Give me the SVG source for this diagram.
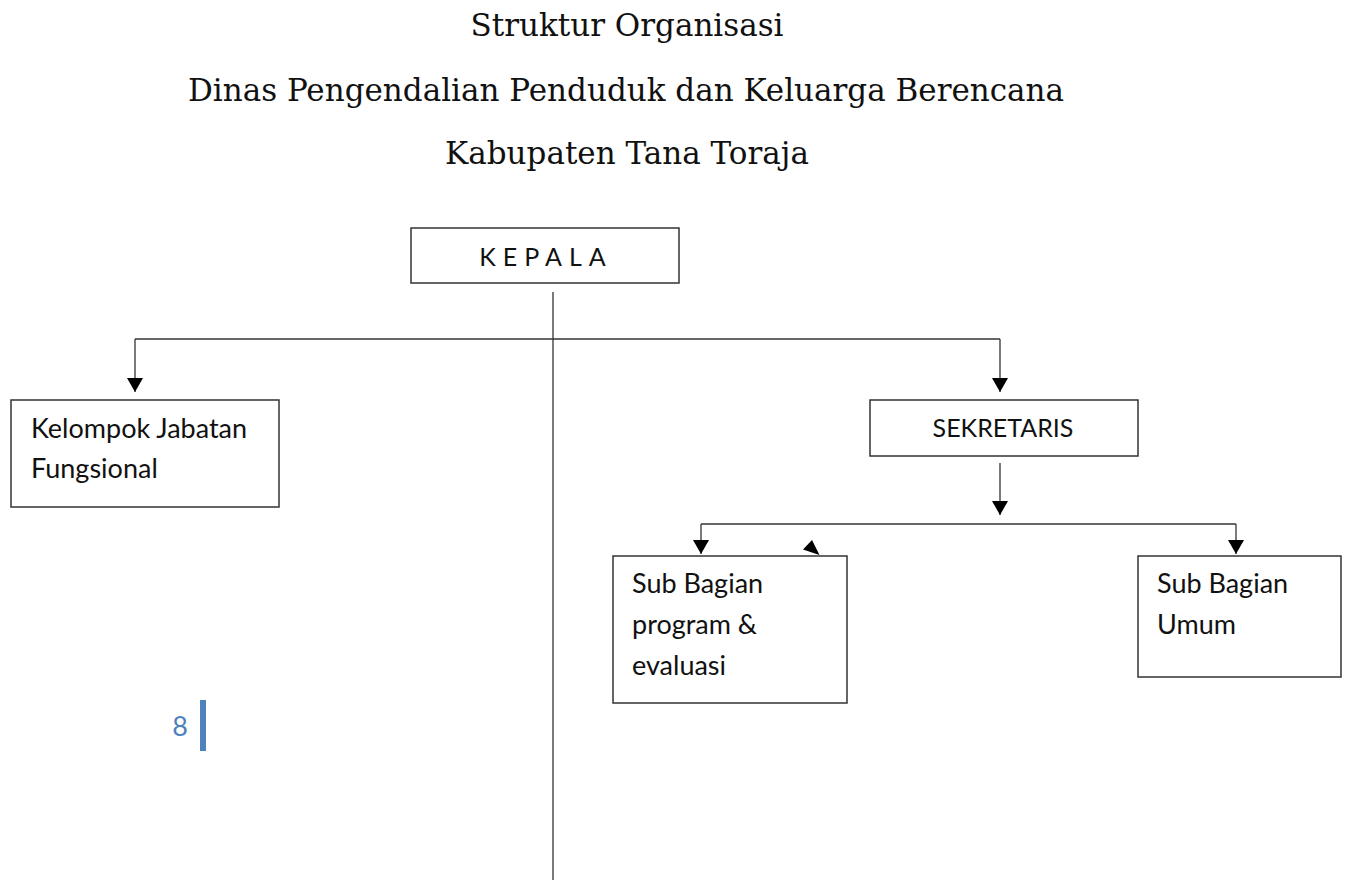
<svg xmlns="http://www.w3.org/2000/svg" width="1348" height="881" viewBox="0 0 1348 881">
<style>
.title{font-family:"DejaVu Serif","Liberation Serif",serif;font-size:31px;fill:#111;text-anchor:middle}
.box{fill:#fff;stroke:#333;stroke-width:1.5}
.lbl{font-family:Lato,"Open Sans",sans-serif;font-size:27px;fill:#111}
.ln{fill:none;stroke:#333;stroke-width:1.3}
</style>
<defs>
<marker id="ah" markerWidth="14" markerHeight="16" refX="14" refY="8" orient="auto" markerUnits="userSpaceOnUse" viewBox="0 0 14 16">
<path d="M0,0 L14,8 L0,16 Z" fill="#000"/>
</marker>
</defs>
<rect width="1348" height="881" fill="#fff"/>
<g id="title">
<text class="title" x="627" y="36">Struktur Organisasi</text>
<text class="title" x="626" y="101">Dinas Pengendalian Penduduk dan Keluarga Berencana</text>
<text class="title" x="627" y="164">Kabupaten Tana Toraja</text>
</g>
<g id="connectors">
<line class="ln" x1="553" y1="292" x2="553" y2="880"/>
<polyline class="ln" points="135,339 1000,339"/>
<line class="ln" x1="135" y1="339" x2="135" y2="392" marker-end="url(#ah)"/>
<line class="ln" x1="1000" y1="339" x2="1000" y2="392" marker-end="url(#ah)"/>
<line class="ln" x1="1000" y1="463" x2="1000" y2="515" marker-end="url(#ah)"/>
<polyline class="ln" points="701,524 1236,524"/>
<line class="ln" x1="701" y1="524" x2="701" y2="554" marker-end="url(#ah)"/>
<line class="ln" x1="1236" y1="524" x2="1236" y2="554" marker-end="url(#ah)"/>
<polygon points="812,540 803,549.5 819.5,555" fill="#000"/>
</g>
<g id="kepala">
<rect class="box" x="411" y="228" width="268" height="55"/>
<text x="546" y="266" text-anchor="middle" letter-spacing="7" style="font-family:Lato,'Open Sans',sans-serif;font-size:25px;fill:#111">KEPALA</text>
</g>
<g id="kelompok">
<rect class="box" x="11" y="400" width="268" height="107"/>
<text class="lbl" x="31" y="438">Kelompok Jabatan</text>
<text class="lbl" x="31" y="478">Fungsional</text>
</g>
<g id="sekretaris">
<rect class="box" x="870" y="400" width="268" height="56"/>
<text x="1003" y="437" text-anchor="middle" style="font-family:Lato,'Open Sans',sans-serif;font-size:25px;fill:#111">SEKRETARIS</text>
</g>
<g id="subprogram">
<rect class="box" x="613" y="556" width="234" height="147"/>
<text class="lbl" x="632" y="593">Sub Bagian</text>
<text class="lbl" x="632" y="634">program &amp;</text>
<text class="lbl" x="632" y="675">evaluasi</text>
</g>
<g id="subumum">
<rect class="box" x="1138" y="556" width="203" height="121"/>
<text class="lbl" x="1157" y="593">Sub Bagian</text>
<text class="lbl" x="1157" y="634">Umum</text>
</g>
<g id="pagenum">
<text x="188" y="736" text-anchor="end" style="font-family:Lato,'Open Sans',sans-serif;font-size:27px;fill:#4f81bd">8</text>
<rect x="200" y="700" width="6" height="51" fill="#4f81bd"/>
</g>
</svg>
